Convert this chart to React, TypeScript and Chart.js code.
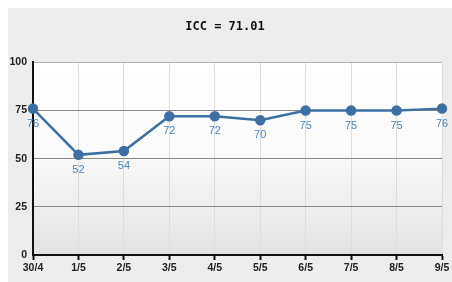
import React, { useEffect, useRef } from "react";
import { Chart, registerables } from "chart.js";

Chart.register(...registerables);

const categories = ["30/4", "1/5", "2/5", "3/5", "4/5", "5/5", "6/5", "7/5", "8/5", "9/5"];
const values = [76, 52, 54, 72, 72, 70, 75, 75, 75, 76];
const yTicks = [0, 25, 50, 75, 100];
const titleText = "ICC = 71.01";

const bgPlugin = {
  id: "plotBg",
  beforeDraw(chart: any) {
    const { ctx, chartArea } = chart;
    if (!chartArea) return;
    const g = ctx.createLinearGradient(0, chartArea.top, 0, chartArea.bottom);
    g.addColorStop(0, "#ffffff");
    g.addColorStop(0.45, "#fbfbfb");
    g.addColorStop(1, "#e2e2e2");
    ctx.save();
    ctx.fillStyle = g;
    ctx.fillRect(chartArea.left, chartArea.top, chartArea.right - chartArea.left, chartArea.bottom - chartArea.top);
    ctx.restore();
  },
};

const labelPlugin = {
  id: "valueLabels",
  afterDatasetsDraw(chart: any) {
    const { ctx } = chart;
    const meta = chart.getDatasetMeta(0);
    ctx.save();
    ctx.fillStyle = "#4a86bb";
    ctx.font = "11px Arial, 'Liberation Sans', sans-serif";
    ctx.textAlign = "center";
    ctx.textBaseline = "middle";
    meta.data.forEach((el: any, i: number) => {
      ctx.fillText(String(values[i]), el.x, el.y + 15);
    });
    ctx.restore();
  },
};

export default function App() {
  const ref = useRef<HTMLCanvasElement>(null);
  useEffect(() => {
    if (!ref.current) return;
    const chart = new Chart(ref.current, {
      type: "line",
      data: {
        labels: categories,
        datasets: [
          {
            data: values,
            borderColor: "#3d6fa3",
            backgroundColor: "#3d6fa3",
            borderWidth: 2.5,
            pointRadius: 4,
            pointBackgroundColor: "#3d6fa3",
            pointBorderColor: "#3d6fa3",
            tension: 0,
          },
        ],
      },
      plugins: [bgPlugin, labelPlugin],
      options: {
        animation: false,
        responsive: false,
        maintainAspectRatio: false,
        layout: { padding: { left: 0, right: 10, top: 0, bottom: 0 } },
        plugins: {
          legend: { display: false },
          tooltip: { enabled: false },
          title: {
            display: true,
            text: titleText,
            color: "#111",
            font: { family: "'DejaVu Sans Mono', monospace", size: 12, weight: "bold" },
            padding: { top: 12, bottom: 28 },
          },
        },
        scales: {
          x: {
            offset: false,
            afterFit(scale: any) {
              scale.height = 27;
            },
            grid: {
              color: "#dcdcdc",
              tickColor: "#111",
              tickLength: 5,
              tickWidth: 2,
              drawTicks: true,
            },
            border: { color: "#111", width: 2 },
            ticks: {
              color: "#222",
              padding: 2,
              maxRotation: 0,
              autoSkip: false,
              font: { family: "Arial, 'Liberation Sans', sans-serif", size: 10.5, weight: "bold" },
            },
          },
          y: {
            min: 0,
            max: 100,
            afterFit(scale: any) {
              scale.width = 25;
            },
            afterBuildTicks(scale: any) {
              scale.ticks = yTicks.map((v) => ({ value: v }));
            },
            grid: {
              color: (c: any) => (c.tick && c.tick.value === 100 ? "#b0b0b0" : "#8a8a8a"),
              drawTicks: false,
            },
            border: { color: "#111", width: 2 },
            ticks: {
              color: "#222",
              padding: 6,
              font: { family: "Arial, 'Liberation Sans', sans-serif", size: 10.5, weight: "bold" },
            },
          },
        },
      },
    });
    return () => chart.destroy();
  }, []);
  return (
    <div
      style={{
        position: "fixed",
        left: 8,
        top: 8,
        width: 444,
        height: 274,
        background: "#ededed",
        overflow: "hidden",
      }}
    >
      <canvas ref={ref} width={444} height={274} style={{ display: "block" }} />
    </div>
  );
}
